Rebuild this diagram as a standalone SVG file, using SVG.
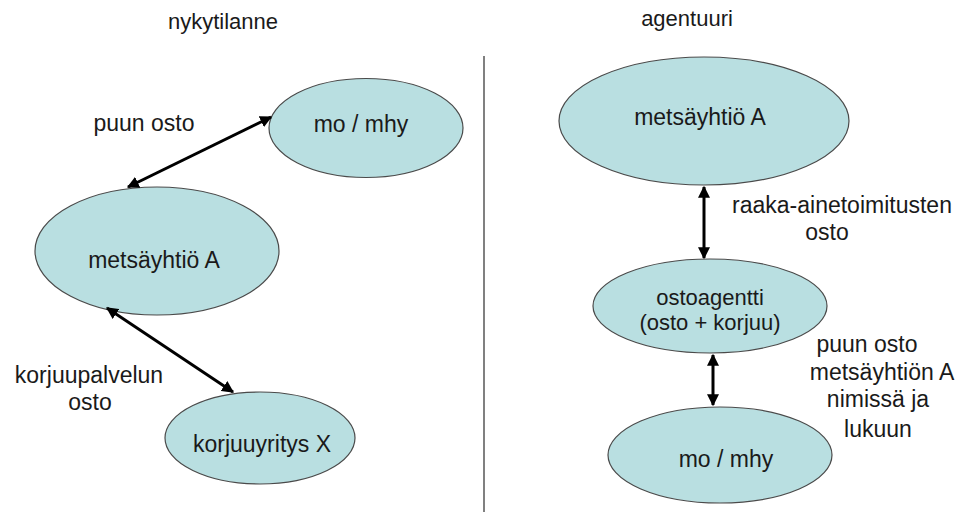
<svg xmlns="http://www.w3.org/2000/svg" width="962" height="512" viewBox="0 0 962 512">
<style>
text{font-family:"Liberation Sans",Arial,sans-serif;font-size:23px;fill:#1a1a1a;text-anchor:middle}
.title{font-size:22px}
.small{font-size:22px}
.node ellipse{fill:#b9dfe1;stroke:#4a4a4a;stroke-width:1.2}
.conn line{stroke:#000;stroke-width:3;marker-start:url(#ah);marker-end:url(#ah)}
</style>
<defs>
<marker id="ah" viewBox="0 0 10 10" refX="9" refY="5" markerWidth="4" markerHeight="4" orient="auto-start-reverse" markerUnits="strokeWidth">
<path d="M0,0 L10,5 L0,10 z" fill="#000"/>
</marker>
</defs>
<rect width="962" height="512" fill="#fff"/>
<text class="title" x="223" y="29">nykytilanne</text>
<text class="title" x="687" y="26">agentuuri</text>
<line x1="484" y1="56" x2="484" y2="512" stroke="#808080" stroke-width="2"/>

<g id="left-mo" class="node"><ellipse cx="366" cy="128" rx="97" ry="49.5"/><text x="361" y="132">mo / mhy</text></g>
<g id="left-metsa" class="node"><ellipse cx="157" cy="251" rx="122" ry="64"/><text x="154" y="268">metsäyhtiö A</text></g>
<g id="left-korjuu" class="node"><ellipse cx="260" cy="438" rx="95" ry="46"/><text x="262" y="452">korjuuyritys X</text></g>

<g id="right-metsa" class="node"><ellipse cx="704" cy="121" rx="145" ry="64"/><text x="700" y="125">metsäyhtiö A</text></g>
<g id="right-agentti" class="node"><ellipse cx="710" cy="306" rx="117" ry="47"/><text class="small" x="710" y="305">ostoagentti</text><text class="small" x="710" y="330">(osto + korjuu)</text></g>
<g id="right-mo" class="node"><ellipse cx="720" cy="455" rx="112" ry="48"/><text x="726" y="467">mo / mhy</text></g>

<g id="connectors" class="conn">
<line x1="128" y1="187" x2="271" y2="117"/>
<line x1="107" y1="308" x2="233" y2="392"/>
<line x1="704" y1="187" x2="704" y2="258"/>
<line x1="713" y1="355" x2="713" y2="405"/>
</g>

<g id="labels">
<text x="144" y="131">puun osto</text>
<text x="89" y="383">korjuupalvelun</text>
<text x="90" y="410">osto</text>
<text x="842" y="213">raaka-ainetoimitusten</text>
<text x="827" y="240">osto</text>
<text x="867" y="352">puun osto</text>
<text x="882" y="380">metsäyhtiön A</text>
<text x="878" y="407">nimissä ja</text>
<text x="878" y="437">lukuun</text>
</g>
</svg>
